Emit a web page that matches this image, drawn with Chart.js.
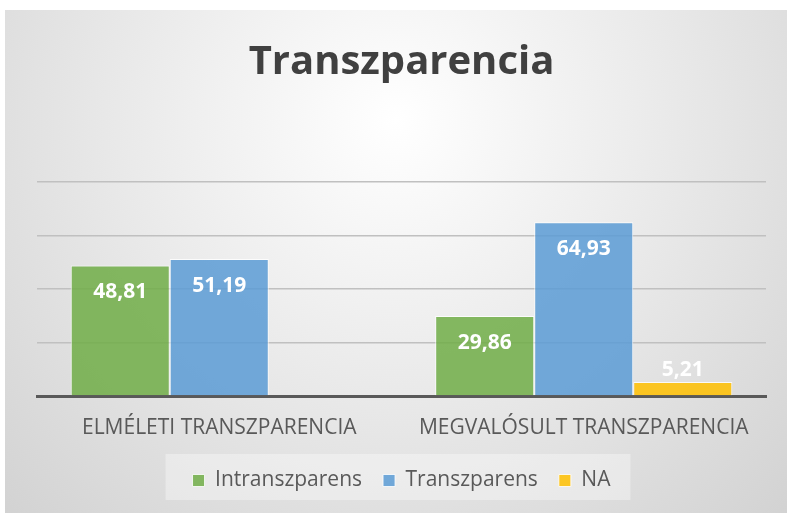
<!DOCTYPE html>
<html>
<head>
<meta charset="utf-8">
<script src="https://cdn.jsdelivr.net/npm/chart.js@4"></script>
<style>
  html, body { margin: 0; padding: 0; background: #ffffff; overflow: hidden; }
  .chart-container { position: absolute; left: 5px; top: 10px; width: 782px; height: 503px; }
</style>
</head>
<body>
<div class="chart-container"><canvas id="transzChart"></canvas></div>
<script>
// Chart data
const categories = ['ELMÉLETI TRANSZPARENCIA', 'MEGVALÓSULT TRANSZPARENCIA'];
const intranszparens = [48.81, 29.86];
const transzparens = [51.19, 64.93];
const naValues = [null, 5.21];
const seriesNames = ['Intranszparens', 'Transzparens', 'NA'];

// Background gradient + light box behind the legend
const backgroundPlugin = {
    id: 'panelBackground',
    beforeDraw(chart) {
        const { ctx, width, height } = chart;
        ctx.save();
        const g = ctx.createRadialGradient(width / 2, 110, 0, width / 2, 110, 620);
        g.addColorStop(0, '#ffffff');
        g.addColorStop(0.45, '#e9e9e9');
        g.addColorStop(1, '#cdcdcd');
        ctx.fillStyle = g;
        ctx.fillRect(0, 0, width, height);

        const boxes = chart.legend && chart.legend.legendHitBoxes;
        if (boxes && boxes.length) {
            const left = Math.min(...boxes.map(b => b.left)) - 27;
            const right = Math.max(...boxes.map(b => b.left + b.width)) + 20;
            const yc = boxes[0].top + boxes[0].height / 2 - 3.5;
            ctx.fillStyle = 'rgba(255,255,255,0.35)';
            ctx.fillRect(left, yc - 23, right - left, 46);
        }
        ctx.restore();
    }
};

// White value labels inside the top of each bar (above it when the bar is too short)
const valueLabelPlugin = {
    id: 'valueLabels',
    afterDatasetsDraw(chart) {
        const { ctx } = chart;
        ctx.save();
        ctx.font = 'bold 21px "Open Sans"';
        ctx.fillStyle = '#ffffff';
        ctx.textAlign = 'center';
        ctx.textBaseline = 'middle';
        chart.data.datasets.forEach((ds, i) => {
            chart.getDatasetMeta(i).data.forEach((bar, j) => {
                const v = ds.data[j];
                if (v === null || v === undefined) return;
                const h = bar.base - bar.y;
                const y = h > 40 ? bar.y + 27 : bar.y - 12;
                ctx.fillText(v.toFixed(2).replace('.', ','), bar.x, y);
            });
        });
        ctx.restore();
    }
};

new Chart(document.getElementById('transzChart'), {
    type: 'bar',
    data: {
        labels: categories,
        datasets: [
            { label: seriesNames[0], data: intranszparens, backgroundColor: 'rgba(112,173,71,0.85)' },
            { label: seriesNames[1], data: transzparens, backgroundColor: 'rgba(91,155,213,0.85)' },
            { label: seriesNames[2], data: naValues, backgroundColor: 'rgba(255,192,0,0.85)' }
        ].map(d => Object.assign(d, {
            borderColor: 'rgba(255,255,255,0.8)',
            borderWidth: 1,
            borderSkipped: 'bottom',
            categoryPercentage: 0.815,
            barPercentage: 1
        }))
    },
    options: {
        responsive: true,
        maintainAspectRatio: false,
        animation: false,
        layout: { padding: { left: 32, right: 21, top: 0, bottom: 12 } },
        scales: {
            x: {
                grid: { display: false, drawTicks: false },
                border: { color: '#595959', width: 3 },
                ticks: { color: '#595959', font: { family: 'Open Sans', size: 21 }, padding: 19 },
                afterFit: scale => { scale.height = 53; } // tighter gap between labels and legend
            },
            y: {
                min: 0,
                max: 80,
                ticks: { display: false, stepSize: 20 },
                grid: { color: '#c0c0c0', lineWidth: 1.5, drawTicks: false },
                border: { display: false }
            }
        },
        plugins: {
            title: {
                display: true,
                text: 'Transzparencia',
                color: '#404040',
                font: { family: 'Open Sans', size: 40, weight: 'bold' },
                padding: { top: 29, bottom: 95 }
            },
            legend: {
                position: 'bottom',
                labels: {
                    color: '#595959',
                    font: { family: 'Open Sans', size: 21 },
                    boxWidth: 12,
                    boxHeight: 12,
                    padding: 21
                }
            },
            tooltip: { enabled: false }
        }
    },
    plugins: [backgroundPlugin, valueLabelPlugin]
});
</script>
</body>
</html>
